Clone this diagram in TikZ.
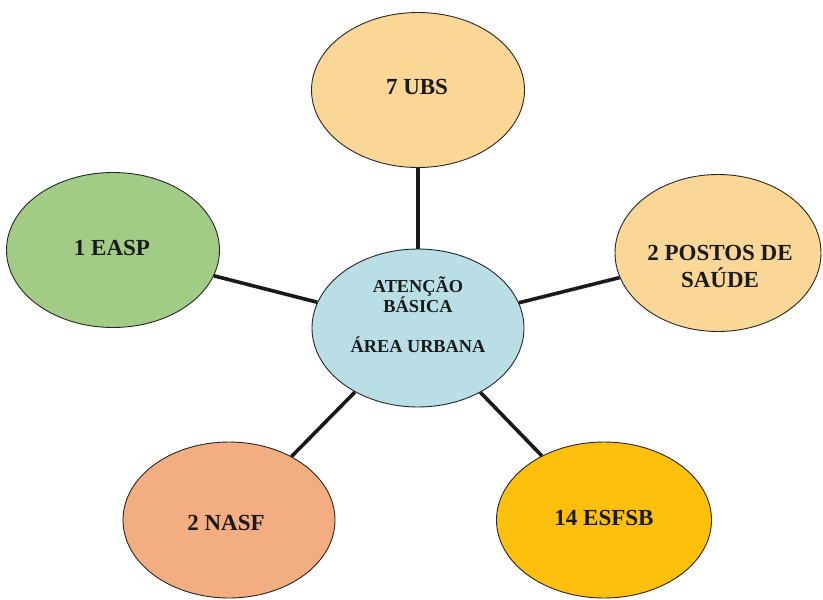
\documentclass[tikz,border=0pt]{standalone}
\usepackage{fontspec}
\setmainfont{Liberation Serif}
\usetikzlibrary{shapes.geometric}
\definecolor{cblue}{HTML}{B9DEE6}
\definecolor{cgold}{HTML}{FAD697}
\definecolor{cgreen}{HTML}{A2CB85}
\definecolor{csalmon}{HTML}{F2AE80}
\definecolor{camber}{HTML}{FEC00C}
\definecolor{ctext}{HTML}{1A1A1A}
\tikzset{
  bubble/.style={ellipse, draw=black!85, line width=0.9pt, inner sep=0pt},
  lbl/.style={font=\bfseries\fontsize{23}{27}\selectfont, text=ctext, align=center, inner sep=0pt},
  link/.style={line width=3.6pt, black!90}
}
\begin{document}
\begin{tikzpicture}[x=1pt,y=-1pt]
\useasboundingbox[fill=white] (0,0) rectangle (823,600);
\node[bubble, fill=cblue, minimum width=212pt, minimum height=158pt] (c) at (418,328) {};
\node[bubble, fill=cgold, minimum width=213pt, minimum height=155pt] (ubs) at (418,90) {};
\node[bubble, fill=cgreen, minimum width=213pt, minimum height=155pt] (easp) at (113,250) {};
\node[bubble, fill=cgold, minimum width=206pt, minimum height=157pt] (postos) at (718,253) {};
\node[bubble, fill=csalmon, minimum width=212pt, minimum height=156pt] (nasf) at (229,520) {};
\node[bubble, fill=camber, minimum width=215pt, minimum height=156pt] (esf) at (604,520) {};
\draw[link] (c) -- (ubs);
\draw[link] (c) -- (easp);
\draw[link] (c) -- (postos);
\draw[link] (c) -- (nasf);
\draw[link] (c) -- (esf);
\node[lbl, font=\bfseries\fontsize{18.3}{20}\selectfont] (tc) at (418,315) {ATENÇÃO\\BÁSICA\\[20pt]ÁREA URBANA};
\node[lbl] (tubs) at (417,87) {7 UBS};
\node[lbl] (teasp) at (112,248) {1 EASP};
\node[lbl] (tpostos) at (720,266) {2 POSTOS DE\\SAÚDE};
\node[lbl] (tnasf) at (226,523) {2 NASF};
\node[lbl] (tesf) at (604,518) {14 ESFSB};
\end{tikzpicture}
\end{document}
